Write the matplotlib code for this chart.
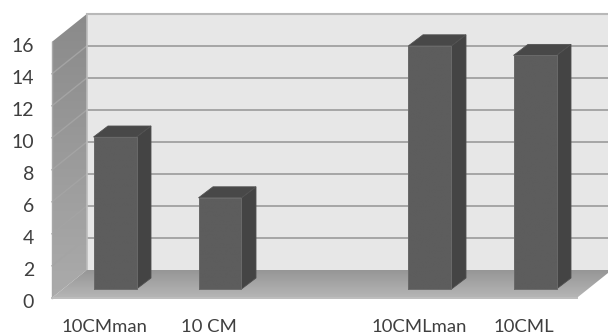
import numpy as np
import matplotlib
matplotlib.use("Agg")
import matplotlib.pyplot as plt
from matplotlib.patches import Polygon
from matplotlib.colors import LinearSegmentedColormap

categories = ["10CMman", "10 CM", "", "10CMLman", "10CML"]
values = [9.5, 5.7, None, 15.2, 14.6]
y_ticks = [0, 2, 4, 6, 8, 10, 12, 14, 16]

W, H = 608, 334
PX_X = 105.0          # px per category
PX_Y = 16.0           # px per value unit
X0, Y0 = 115.0, 289.0 # pixel position of category 0, value 0 on the bar plane

fig = plt.figure(figsize=(W / 100, H / 100), dpi=100, facecolor="white")
ax = fig.add_axes([0, 0, 1, 1])
ax.axis("off")
xlim = (-X0 / PX_X, (W - X0) / PX_X)
ylim = ((Y0 - H) / PX_Y, Y0 / PX_Y)

plt.rcParams["font.family"] = ["Lato", "DejaVu Sans"]
TXT = "#3f3f3f"

# chart box geometry, in data units (offsets from the bar plane)
LEFT = -0.60          # front left edge
RIGHT = 4.40          # front right edge
FRONT_Y = -0.55       # front edge of the floor
DX = 35 / PX_X        # depth of the box
DY = 28 / PX_Y
BAR_W = 43 / PX_X
BAR_DX = 14.5 / PX_X
BAR_DY = 11 / PX_Y
TOP = max(y_ticks)


def gradient(poly, c1, c2, z, horizontal=False):
    cmap = LinearSegmentedColormap.from_list("g", [c1, c2])
    xs, ys = zip(*poly)
    arr = np.linspace(0, 1, 128)
    arr = arr[None, :] if horizontal else arr[:, None]
    im = ax.imshow(arr, cmap=cmap, aspect="auto", origin="upper", zorder=z,
                   extent=(min(xs), max(xs), min(ys), max(ys)), vmin=0, vmax=1)
    patch = Polygon(poly, closed=True, transform=ax.transData, fc="none", ec="none")
    ax.add_patch(patch)
    im.set_clip_path(patch)


# back wall
bx0 = LEFT + DX
by0 = FRONT_Y + DY
wall = [(bx0, by0), (xlim[1] + 1, by0), (xlim[1] + 1, by0 + TOP), (bx0, by0 + TOP)]
ax.add_patch(Polygon(wall, closed=True, fc="#e7e7e7", ec="none", zorder=1))
GRID = "#a6a6a6"
for t in y_ticks[1:]:
    ax.plot([bx0, xlim[1] + 1], [by0 + t, by0 + t], color=GRID, lw=1.4, zorder=2,
            solid_capstyle="butt")
ax.plot([bx0, xlim[1] + 1], [by0 + TOP, by0 + TOP], color="#b8b8b8", lw=1.5, zorder=2)

# side wall
side = [(LEFT, FRONT_Y), (bx0, by0), (bx0, by0 + TOP), (LEFT, FRONT_Y + TOP)]
gradient(side, "#8a8a8a", "#ababab", 2)
for t in y_ticks[1:-1]:
    ax.plot([LEFT, bx0], [FRONT_Y + t, by0 + t], color="#a4a4a4", lw=1.0, zorder=3)
ax.plot([bx0, bx0], [by0, by0 + TOP], color="#bcbcbc", lw=1.2, zorder=3)
ax.plot([LEFT, LEFT], [FRONT_Y, FRONT_Y + TOP], color="#a8a8a8", lw=1.0, zorder=3)

# floor
floor = [(LEFT, FRONT_Y), (RIGHT, FRONT_Y), (RIGHT + DX, by0), (bx0, by0)]
gradient(floor, "#969696", "#b6b6b6", 3)
ax.plot([LEFT, RIGHT], [FRONT_Y, FRONT_Y], color="#bdbdbd", lw=1.4, zorder=4)

# bars
for i, v in enumerate(values):
    if v is None:
        continue
    l = i - BAR_W / 2
    r = i + BAR_W / 2
    ax.add_patch(Polygon([(r, 0), (r + BAR_DX, BAR_DY), (r + BAR_DX, v + BAR_DY), (r, v)],
                         closed=True, fc="#444444", ec="#505050", lw=0.6, zorder=5))
    ax.add_patch(Polygon([(l, v), (r, v), (r + BAR_DX, v + BAR_DY), (l + BAR_DX, v + BAR_DY)],
                         closed=True, fc="#484848", ec="#525252", lw=0.6, zorder=5))
    gradient([(l, 0), (r, 0), (r, v), (l, v)], "#5d5d5d", "#5d5d5d", 6)
    ax.plot([l, r, r, l, l], [0, 0, v, v, 0], color="#6a6a6a", lw=0.7, zorder=7)

# tick labels
for t in y_ticks:
    ax.text(LEFT - 18 / PX_X, FRONT_Y + t - 0.18, str(t), ha="right", va="center_baseline",
            fontsize=14, color=TXT, zorder=8)
for i, c in enumerate(categories):
    if c:
        ax.text(i - 11 / PX_X, (Y0 - 326) / PX_Y, c, ha="center", va="center_baseline",
                fontsize=13.3, color=TXT, zorder=8)

ax.set_xlim(*xlim)
ax.set_ylim(*ylim)
fig.savefig("out.png", dpi=100, facecolor="white")
